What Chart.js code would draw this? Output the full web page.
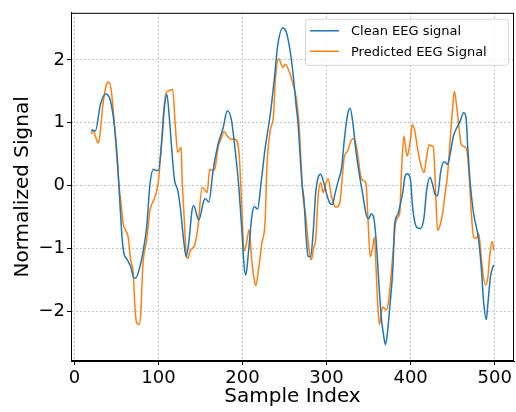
<!DOCTYPE html>
<html>
<head>
<meta charset="utf-8">
<script src="https://cdn.jsdelivr.net/npm/chart.js@4.4.1/dist/chart.umd.min.js"></script>
<style>
  html, body { margin: 0; padding: 0; background: #fff; }
  #wrap { width: 516px; height: 412px; }
</style>
</head>
<body>
<div id="wrap"><canvas id="eegChart" width="516" height="412"></canvas></div>
<script>
// values
const cleanIndex = [20, 25, 31, 37, 42, 47, 51, 54, 57, 59, 63, 67, 71, 73, 77, 82, 86, 90, 94, 97, 100, 104, 107, 110, 113, 116, 119, 123, 126, 130, 133, 136, 140, 142, 148, 154, 156, 160, 165, 171, 177, 182, 187, 191, 195, 199, 202, 204, 207, 211, 214, 218, 222, 227, 233, 238, 242, 248, 252, 256, 260, 264, 266, 271, 273, 276, 278, 281, 284, 287, 290, 293, 296, 300, 304, 307, 310, 314, 318, 321, 325, 328, 331, 335, 339, 343, 347, 350, 353, 356, 359, 362, 365, 368, 370, 372, 375, 379, 381, 385, 387, 391, 393, 396, 400, 402, 405, 408, 412, 416, 419, 423, 426, 429, 432, 436, 440, 444, 447, 451, 455, 459, 463, 466, 468, 471, 475, 479, 481, 484, 487, 490, 492, 495, 498, 499]
const cleanValues = [0.89, 0.87, 1.29, 1.46, 1.39, 1.03, 0.45, -0.24, -0.87, -1.08, -1.18, -1.29, -1.47, -1.47, -1.34, -1.03, -0.66, 0.03, 0.26, 0.24, 0.24, 0.71, 1.24, 1.45, 1.08, 0.55, 0.1, -0.08, -0.34, -0.87, -1.13, -0.92, -0.39, -0.32, -0.55, -0.24, -0.21, -0.26, 0.24, 0.66, 0.92, 1.19, 1.03, 0.6, 0.08, -0.66, -1.29, -1.42, -1.08, -0.5, -0.33, -0.37, 0.03, 0.6, 1.13, 1.71, 2.24, 2.51, 2.45, 2.2, 1.8, 1.25, 1.0, 0.0, -0.2, -0.87, -1.12, -1.13, -0.76, -0.13, 0.13, 0.18, 0.08, -0.13, -0.28, -0.3, -0.13, 0.08, 0.29, 0.71, 1.13, 1.23, 1.03, 0.55, 0.18, -0.13, -0.45, -0.53, -0.45, -0.5, -0.87, -1.5, -2.08, -2.39, -2.53, -2.39, -1.97, -1.29, -0.62, -0.45, -0.34, -0.08, 0.13, 0.19, 0.08, -0.29, -0.58, -0.67, -0.68, -0.5, -0.08, 0.13, 0.03, -0.14, -0.16, 0.24, 0.38, 0.34, 0.5, 0.79, 0.92, 1.03, 1.16, 1.08, 0.61, 0.03, -0.45, -0.71, -0.87, -1.29, -1.87, -2.13, -1.87, -1.45, -1.29, -1.26]

const predIndex = [20, 22, 25, 28, 30, 34, 38, 41, 44, 47, 50, 53, 56, 58, 61, 64, 67, 70, 72, 74, 77, 79, 81, 82, 86, 90, 94, 97, 100, 103, 106, 109, 112, 117, 120, 123, 127, 128, 131, 133, 135, 138, 143, 147, 152, 154, 158, 161, 164, 167, 171, 175, 178, 182, 186, 191, 196, 199, 202, 204, 208, 211, 214, 216, 219, 223, 227, 229, 233, 237, 239, 243, 248, 251, 256, 260, 264, 267, 270, 272, 275, 278, 280, 282, 285, 287, 290, 293, 296, 299, 302, 306, 310, 312, 316, 319, 321, 325, 329, 332, 335, 337, 341, 344, 347, 349, 352, 355, 357, 359, 361, 363, 365, 367, 371, 374, 377, 379, 382, 385, 387, 389, 392, 394, 396, 400, 402, 405, 408, 412, 416, 419, 422, 425, 427, 430, 432, 435, 438, 441, 444, 447, 450, 452, 455, 458, 460, 464, 467, 470, 472, 475, 477, 479, 481, 484, 486, 489, 492, 494, 497, 499]
const predValues = [0.82, 0.88, 0.79, 0.68, 0.76, 1.29, 1.6, 1.65, 1.5, 1.08, 0.55, 0.03, -0.34, -0.6, -0.71, -0.82, -1.18, -1.39, -1.92, -2.18, -2.21, -2.03, -1.39, -1.18, -0.87, -0.39, -0.24, -0.13, 0.08, 0.55, 1.13, 1.47, 1.51, 1.53, 0.97, 0.53, 0.61, 0.18, -0.6, -1.08, -1.16, -1.03, -0.95, -0.66, -0.03, -0.05, -0.11, 0.26, 0.24, 0.26, 0.61, 0.76, 0.86, 0.79, 0.74, 0.74, 0.5, -0.29, -1.04, -0.97, -0.7, -1.18, -1.5, -1.59, -1.34, -0.92, -0.55, 0.29, 0.87, 1.13, 1.66, 2.02, 1.88, 1.93, 1.8, 1.62, 1.39, 1.03, 0.29, -0.18, -0.45, -0.87, -1.08, -1.18, -0.97, -0.87, -0.18, 0.05, -0.11, 0.03, 0.11, -0.18, -0.33, -0.34, -0.26, 0.18, 0.45, 0.55, 0.71, 0.75, 0.66, 0.5, 0.13, 0.08, 0.03, -0.45, -1.13, -0.97, -0.82, -1.34, -1.92, -2.21, -2.03, -1.93, -1.98, -1.82, -1.39, -1.08, -0.61, -0.5, -0.45, 0.18, 0.79, 0.61, 0.47, 0.76, 0.97, 0.87, 0.61, 0.34, 0.21, 0.45, 0.65, 0.63, 0.62, -0.18, -0.71, -0.63, -0.45, -0.13, 0.18, 0.71, 1.24, 1.5, 1.24, 0.87, 0.66, 0.62, 0.55, 0.08, -0.39, -0.82, -0.84, -0.82, -0.76, -1.13, -1.39, -1.58, -1.45, -1.13, -0.89, -1.03]

const xTicks = [0, 100, 200, 300, 400, 500]
const yTicks = [-2, -1, 0, 1, 2]

const toPoints = (xs, ys) => xs.map((x, i) => ({ x: x, y: ys[i] }))
const minusSign = v => String(v).replace('-', '\u2212')

const FONT = "'DejaVu Sans', sans-serif"

// closes the box on all four sides like matplotlib spines
const frameBox = {
  id: 'frameBox',
  afterDraw(chart) {
    const { ctx, chartArea: a } = chart
    ctx.save()
    ctx.setLineDash([])
    ctx.strokeStyle = '#000'
    ctx.lineWidth = 1
    ctx.strokeRect(a.left + 0.5, a.top + 0.5, a.right - a.left - 1, a.bottom - a.top - 1)
    ctx.restore()
  }
}

// legend box in the upper right corner of the plot
const boxLegend = {
  id: 'boxLegend',
  afterDraw(chart) {
    const { ctx, chartArea: a } = chart
    const sets = chart.data.datasets
    const w = 203, h = 46
    const x0 = a.right - 6 - w, y0 = a.top + 6
    ctx.save()
    ctx.beginPath()
    ctx.roundRect(x0 + 0.5, y0 + 0.5, w, h, 3)
    ctx.fillStyle = 'rgba(255,255,255,0.8)'
    ctx.fill()
    ctx.strokeStyle = '#d6d6d6'
    ctx.lineWidth = 1
    ctx.stroke()
    ctx.font = '13px ' + FONT
    ctx.textBaseline = 'middle'
    sets.forEach((ds, i) => {
      const cy = y0 + 12 + i * 20.5
      ctx.beginPath()
      ctx.moveTo(x0 + 5, cy)
      ctx.lineTo(x0 + 34, cy)
      ctx.strokeStyle = ds.borderColor
      ctx.lineWidth = 1.5
      ctx.stroke()
      ctx.fillStyle = '#000'
      ctx.fillText(ds.label, x0 + 46, cy + 1)
    })
    ctx.restore()
  }
}

const gridStyle = {
  color: '#c4c4c4',
  tickColor: '#000',
  tickLength: 4,
  tickWidth: 1,
  tickBorderDash: []
}

new Chart(document.getElementById('eegChart'), {
  type: 'line',
  data: {
    datasets: [
      {
        label: 'Clean EEG signal',
        data: toPoints(cleanIndex, cleanValues),
        borderColor: '#1f77b4',
        borderWidth: 1.5,
        pointRadius: 0,
        cubicInterpolationMode: 'monotone'
      },
      {
        label: 'Predicted EEG Signal',
        data: toPoints(predIndex, predValues),
        borderColor: '#ff7f0e',
        borderWidth: 1.5,
        pointRadius: 0,
        cubicInterpolationMode: 'monotone'
      }
    ]
  },
  options: {
    responsive: false,
    animation: false,
    layout: { padding: { top: 11, right: 2, left: 0, bottom: 0 } },
    plugins: {
      legend: { display: false },
      tooltip: { enabled: false }
    },
    scales: {
      x: {
        type: 'linear',
        min: -4,
        max: 523,
        afterBuildTicks: s => { s.ticks = xTicks.map(v => ({ value: v })) },
        afterFit: s => { s.height = 51 },
        grid: gridStyle,
        // in v4 border.dash is what dashes the grid lines
        border: { display: true, color: '#000', width: 1, dash: [2, 2] },
        ticks: {
          color: '#000',
          padding: 3,
          maxRotation: 0,
          font: { family: FONT, size: 18 },
          callback: v => minusSign(v)
        },
        title: {
          display: true,
          text: 'Sample Index',
          color: '#000',
          font: { family: FONT, size: 20 },
          padding: { top: 0, bottom: 3 }
        }
      },
      y: {
        min: -2.79,
        max: 2.75,
        afterBuildTicks: s => { s.ticks = yTicks.map(v => ({ value: v })) },
        afterFit: s => { s.width = 71 },
        grid: gridStyle,
        border: { display: true, color: '#000', width: 1, dash: [2, 2] },
        ticks: {
          color: '#000',
          padding: 2,
          font: { family: FONT, size: 18 },
          callback: v => minusSign(v)
        },
        title: {
          display: true,
          text: 'Normalized Signal',
          color: '#000',
          font: { family: FONT, size: 20 },
          padding: { top: 11, bottom: 0 }
        }
      }
    }
  },
  plugins: [frameBox, boxLegend]
})
</script>
</body>
</html>
